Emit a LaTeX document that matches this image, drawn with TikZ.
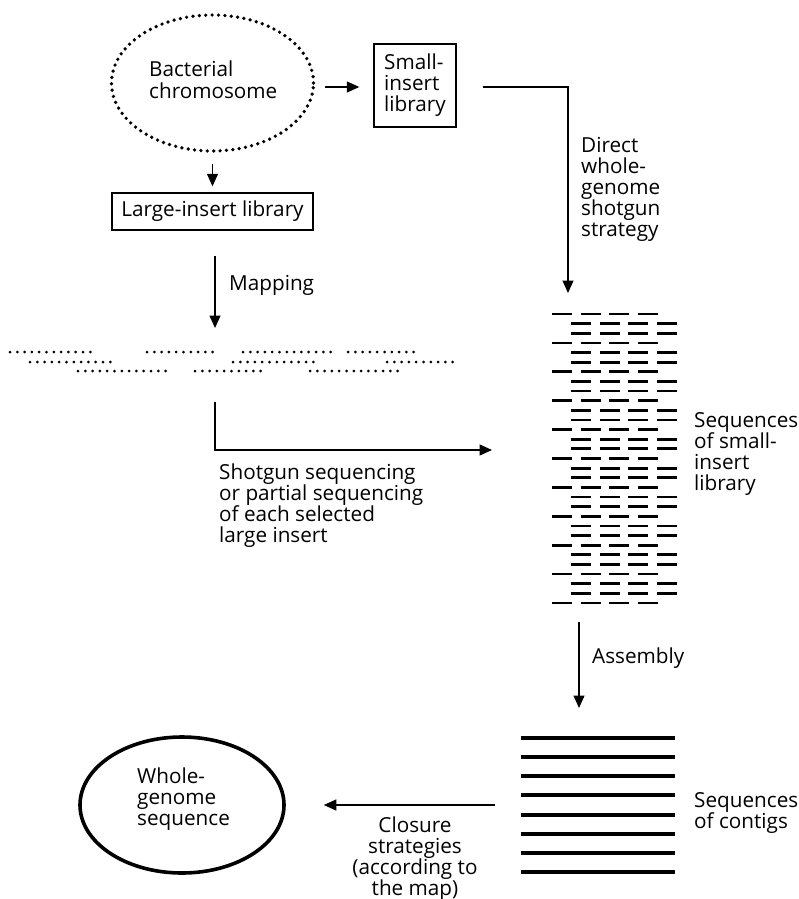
\documentclass[tikz,border=0pt]{standalone}
\usepackage{fontspec}
\setmainfont{Open Sans}
\usetikzlibrary{arrows.meta,shapes.geometric}
\newcommand\txtL[1]{\vtop{\lineskiplimit=-30pt\relax\halign{##\hfil\cr#1\crcr}}}
\newcommand\txtC[1]{\vtop{\lineskiplimit=-30pt\relax\halign{\hfil##\hfil\cr#1\crcr}}}
\newcommand\dfont{\fontsize{20.7}{21}\selectfont}
\begin{document}
\begin{tikzpicture}[x=1pt,y=-1pt,
  lbl/.style={inner sep=0pt, font=\dfont, anchor=base west},
  lblc/.style={lbl, anchor=base},
  arr/.style={line width=1.2pt, -{Triangle[length=12.5pt,width=11pt]}},
  box/.style={draw, rectangle, line width=1.4pt, inner sep=0pt, font=\dfont},
  mapdots/.style={line width=3pt, dash pattern=on 0pt off 7.3pt, line cap=round},
  readdash/.style={line width=2.8pt},
  contig/.style={line width=3.9pt}
]
\useasboundingbox (0,0) rectangle (799,899);
\fill[white] (0,0) rectangle (799,899);

% top: bacterial chromosome
\node[ellipse, draw, line width=3.7pt, dash pattern=on 0pt off 6.4pt, line cap=round,
      minimum width=202pt, minimum height=136pt, inner sep=0pt] (bact) at (212.5,83) {};
\node[lbl] (bacttxt) at (149,77) {\txtL{Bacterial\cr chromosome}};

\node[box, minimum width=82pt, minimum height=83pt] (small) at (415,85.5) {\txtL{Small-\cr insert\cr library}};
\node[box, minimum width=201pt, minimum height=37pt] (large) at (212.5,211.5) {Large-insert library};

\draw[arr, shorten <=10pt, shorten >=14pt] ([yshift=-4pt]bact.east) -- ([yshift=-1.5pt]small.west);
\draw[arr, shorten <=11pt, shorten >=6pt] (bact.south) -- (large.north);

% direct whole-genome shotgun
\coordinate (dtip) at (568,293);
\draw[arr] ([xshift=26pt,yshift=-1.5pt]small.east) -| (dtip);
\node[lbl] (directtxt) at (581,152) {\txtL{Direct\cr whole-\cr genome\cr shotgun\cr strategy}};

% mapping
\coordinate (maptip) at (215,328);
\draw[arr] ([xshift=2.5pt,yshift=-25pt]large.south) -- (maptip);
\node[lbl] (maplbl) at (229,290) {Mapping};

% map of large inserts (dotted)
\foreach \xa/\n/\yy in {10/12/352,147/10/352,243/13/352,348/10/352,
                        30/12/362,233/12/362,387/10/362,
                        78/13/371,195/10/371,310/13/371}{
  \draw[mapdots] (\xa,\yy) -- ++({(\n-1)*7.3+0.1},0);
}

% shotgun sequencing of large inserts
\coordinate (sgstart) at (215,402);
\coordinate (sgend) at (492,450);
\draw[arr] (sgstart) |- (sgend);
\node[lbl] (sgtxt) at (219,479) {\txtL{Shotgun sequencing\cr or partial sequencing\cr of each selected\cr large insert}};

% small-insert sequences
\foreach \i in {0,...,30}{
  \pgfmathsetmacro\yy{314+\i*9.633}
  \pgfmathtruncatemacro\rr{mod(\i,3)}
  \ifnum\rr=0
    \foreach \k in {0,...,3}{\draw[readdash] ({552+\k*28.67},\yy) -- ++(20,0);}
  \else
    \foreach \k in {0,...,3}{\draw[readdash] ({571+\k*28.67},\yy) -- ++(20,0);}
  \fi
}
\node[lbl] (seqtxt) at (694,427) {\txtL{Sequences\cr of small-\cr insert\cr library}};

% assembly
\coordinate (asA) at (579,622);
\coordinate (asB) at (579,708);
\draw[arr] (asA) -- (asB);
\node[lbl] (asmtxt) at (592,663) {Assembly};

% contigs
\foreach \i in {0,...,7}{
  \draw[contig] (521,{738+\i*19.14}) -- (675,{738+\i*19.14});
}
\node[lbl] (contigtxt) at (694,807) {\txtL{Sequences\cr of contigs}};

% whole genome
\node[ellipse, draw, line width=3.6pt, minimum width=204pt, minimum height=136pt, inner sep=0pt] (whole) at (182,805) {};
\node[lbl] (wholetxt) at (137,783) {\txtL{Whole-\cr genome\cr sequence}};

\coordinate (clA) at (495,805);
\draw[arr, shorten >=38pt] (clA) -- (whole.east);
\node[lblc] (cltxt) at (415,832) {\txtC{Closure\cr strategies\cr (according to\cr the map)}};
\end{tikzpicture}
\end{document}
